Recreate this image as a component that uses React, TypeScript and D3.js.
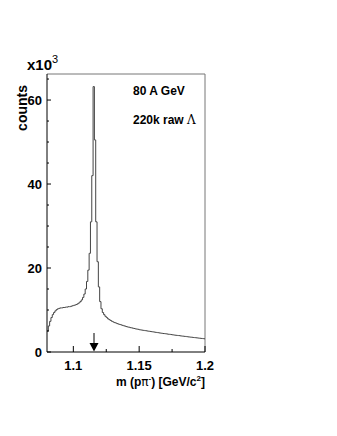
import React from 'react';
import * as d3 from 'd3';

// invariant mass histogram, 1 MeV bins from 1.080 to 1.200 GeV, counts in 10^3
const binLow = 1.08;
const binWidth = 0.001;
const counts = [
  5.0, 6.2, 7.3, 8.2, 8.9, 9.4, 9.8, 10.1, 10.3, 10.4,
  10.5, 10.5, 10.6, 10.6, 10.7, 10.7, 10.8, 10.8, 10.9, 11.0,
  11.1, 11.2, 11.3, 11.5, 11.7, 12.0, 12.4, 13.0, 13.8, 15.0,
  16.8, 19.5, 23.5, 31.0, 42.0, 63.2, 50.5, 31.0, 21.5, 15.5,
  12.0, 10.3, 9.4, 8.9, 8.5, 8.2, 7.9, 7.7, 7.5, 7.3,
  7.15, 7.0, 6.9, 6.75, 6.65, 6.55, 6.45, 6.35, 6.25, 6.15,
  6.05, 5.95, 5.9, 5.8, 5.75, 5.65, 5.6, 5.5, 5.45, 5.4,
  5.3, 5.25, 5.2, 5.15, 5.1, 5.05, 5.0, 4.95, 4.9, 4.85,
  4.8, 4.75, 4.7, 4.65, 4.6, 4.55, 4.5, 4.45, 4.4, 4.38,
  4.33, 4.28, 4.23, 4.2, 4.15, 4.1, 4.05, 4.0, 3.97, 3.93,
  3.9, 3.85, 3.8, 3.77, 3.73, 3.7, 3.65, 3.6, 3.57, 3.53,
  3.5, 3.45, 3.42, 3.38, 3.35, 3.3, 3.27, 3.23, 3.2, 3.15,
];

const xTickLabels = [1.1, 1.15, 1.2];
const xMinorTicks = [1.125, 1.175];
const yTickLabels = [0, 20, 40, 60];
const lambdaMass = 1.1157;

const width = 337;
const height = 436;
const marginLeft = 47;
const marginRight = 132;
const marginTop = 74;
const marginBottom = 84;

const font = "'Liberation Sans', Arial, Helvetica, sans-serif";

export default function App() {
  const x = d3.scaleLinear()
    .domain([1.08, 1.2])
    .range([marginLeft, width - marginRight]);

  const y = d3.scaleLinear()
    .domain([0, 66.2])
    .range([height - marginBottom, marginTop]);

  const pts = counts.map((c, i) => [binLow + i * binWidth, c] as [number, number]);
  pts.push([binLow + counts.length * binWidth, counts[counts.length - 1]]);

  const line = d3.line<[number, number]>()
    .curve(d3.curveStepAfter)
    .x(d => x(d[0]))
    .y(d => y(d[1]));

  const x0 = x.range()[0];
  const x1 = x.range()[1];
  const y0 = y.range()[0];
  const y1 = y.range()[1];

  const yMinor = d3.range(0, 66, 5).filter(v => v % 20 !== 0);
  const ax = x(lambdaMass);

  return (
    <div style={{ position: 'absolute', left: 0, top: 0 }}>
      <svg width={width} height={height} style={{ display: 'block', background: '#fff' }}>
        {/* frame */}
        <line x1={x0} x2={x1} y1={y1} y2={y1} stroke="#777" strokeWidth={1} />
        <line x1={x1} x2={x1} y1={y1} y2={y0} stroke="#777" strokeWidth={1} />

        <path d={line(pts) || ''} fill="none" stroke="#444" strokeWidth={1} />

        {/* axes */}
        <line x1={x0} x2={x0} y1={y1} y2={y0} stroke="#000" strokeWidth={1} />
        <line x1={x0} x2={x1} y1={y0} y2={y0} stroke="#000" strokeWidth={1} />

        {yTickLabels.map(v => (
          <g key={'yt' + v}>
            <line x1={x0} x2={x0 + 4} y1={y(v)} y2={y(v)} stroke="#000" />
            <text x={x0 - 5} y={y(v)} dy="0.36em" textAnchor="end"
              fontFamily={font} fontWeight="bold" fontSize={13}>{v}</text>
          </g>
        ))}
        {yMinor.map(v => (
          <line key={'ym' + v} x1={x0} x2={x0 + 2} y1={y(v)} y2={y(v)} stroke="#000" />
        ))}

        {xTickLabels.map(v => (
          <g key={'xt' + v}>
            <line x1={x(v)} x2={x(v)} y1={y0} y2={y0 - 6} stroke="#000" />
            <text x={x(v)} y={y0 + 18} textAnchor="middle"
              fontFamily={font} fontWeight="bold" fontSize={13}>{v}</text>
          </g>
        ))}
        {xMinorTicks.map(v => (
          <line key={'xm' + v} x1={x(v)} x2={x(v)} y1={y0} y2={y0 - 3} stroke="#000" />
        ))}

        {/* arrow at the Lambda mass */}
        <line x1={ax} x2={ax} y1={y0 - 19} y2={y0 - 6} stroke="#000" strokeWidth={1} />
        <path d={`M${ax - 4.5},${y0 - 9} L${ax + 4.5},${y0 - 9} L${ax},${y0 - 0.5} Z`} fill="#000" />

        {/* axis titles */}
        <text x={27} y={70} fontFamily={font} fontWeight="bold" fontSize={15}>
          x10<tspan dy={-7} fontSize={11} fontWeight="normal">3</tspan>
        </text>
        <text transform={`translate(27,${y1 + 11}) rotate(-90)`} textAnchor="end"
          fontFamily={font} fontWeight="bold" fontSize={14}>counts</text>
        <text x={x1} y={y0 + 34} textAnchor="end" fontFamily={font} fontWeight="bold" fontSize={12}>
          m (p<tspan fontFamily="'DejaVu Sans', sans-serif" fontWeight="normal">π</tspan>
          <tspan dy={-5} fontSize={8}>-</tspan><tspan dy={5}>) [GeV/c</tspan>
          <tspan dy={-5} fontSize={8}>2</tspan><tspan dy={5}>]</tspan>
        </text>

        {/* labels */}
        <text x={133} y={95} fontFamily={font} fontWeight="bold" fontSize={12}>80 A GeV</text>
        <text x={133} y={124} fontFamily={font} fontWeight="bold" fontSize={12}>
          220k raw <tspan fontFamily="'DejaVu Serif', serif" fontWeight="normal">Λ</tspan>
        </text>
      </svg>
    </div>
  );
}
